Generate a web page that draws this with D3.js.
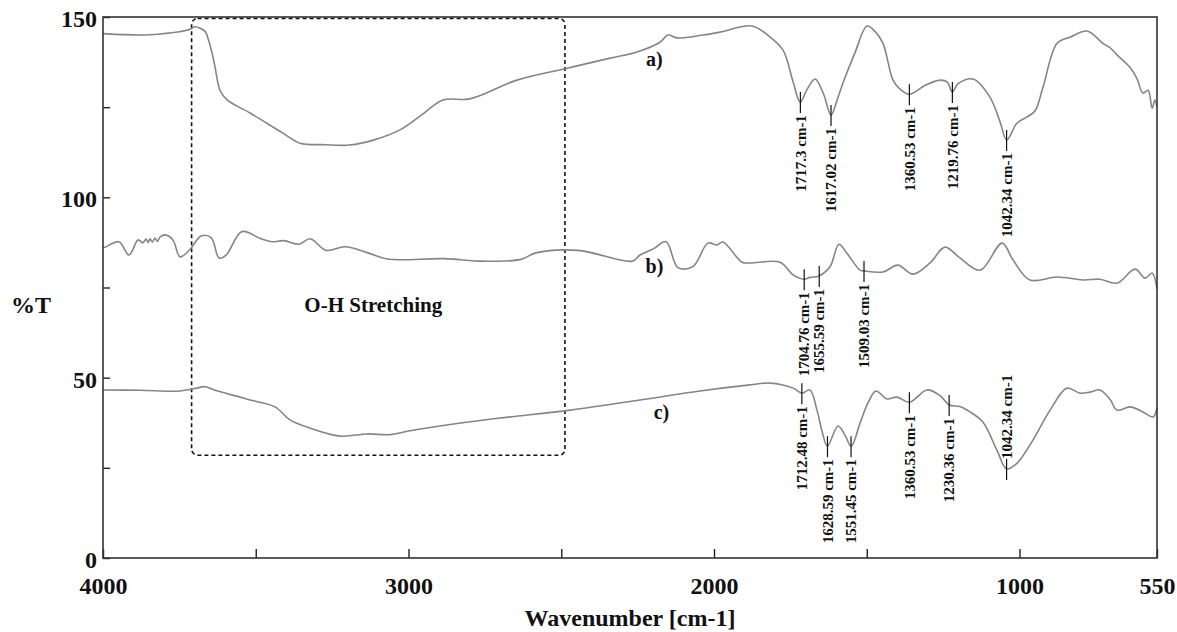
<!DOCTYPE html>
<html lang="en">
<head>
    <meta charset="UTF-8">
    <title>FTIR spectra</title>
    <script src="https://d3js.org/d3.v7.min.js"></script>
    <style type="text/css">
        body { margin: 0; background: #fff; }
        svg text { font-family: "Liberation Serif", "Times New Roman", serif; font-weight: bold; fill: #111; }
    </style>
</head>
<body>
    <div id="chartArea"></div>
    <script type="text/javascript">
        // spectra: [wavenumber, %T]
        var curveA = [
            [4000, 145.4], [3879, 145.0], [3813, 145.3], [3750, 145.9], [3715, 146.6], [3699, 147.3],
            [3666, 146.0], [3656, 144], [3643, 140], [3633, 136], [3617, 129.7], [3594, 127],
            [3519, 123.4], [3411, 117.8], [3355, 115], [3273, 114.6], [3192, 114.5], [3110, 116],
            [3028, 118.7], [2962, 122.5], [2887, 127], [2799, 127.3], [2645, 132.5], [2481, 135.8],
            [2340, 138.6], [2252, 140.3], [2177, 143], [2151, 145], [2121, 144.2], [2036, 145],
            [1980, 145.8], [1876, 147.5], [1817, 144.5], [1774, 140.8], [1741, 132], [1718, 126.4],
            [1695, 130], [1669, 132.8], [1643, 129], [1617, 122.8], [1597, 127], [1578, 131.7],
            [1539, 140], [1499, 147.5], [1473, 146], [1447, 142.7], [1414, 132.5], [1391, 130],
            [1360, 128.6], [1310, 131], [1260, 132.5], [1237, 132], [1220, 129.2], [1201, 131.5],
            [1152, 132.8], [1097, 127.8], [1064, 121], [1042, 115.9], [1008, 120.6], [975, 122.3],
            [949, 124], [923, 130.6], [877, 142.7], [835, 144.4], [779, 146.1], [727, 142.7],
            [704, 141.5], [681, 139.5], [638, 136], [616, 133], [596, 128.9], [579, 129.7],
            [566, 124.7], [557, 127], [550, 125]
        ];
        var curveB = [
            [4000, 86.3], [3997, 86.1], [3948, 87.7], [3915, 84.0], [3885, 88.2], [3870, 87.4],
            [3859, 88.4], [3852, 87.5], [3846, 88.5], [3838, 87.6], [3830, 88.7], [3822, 87.8],
            [3813, 89.0], [3797, 89.6], [3771, 88.2], [3748, 83.5], [3715, 85.6], [3679, 89.3],
            [3646, 88.8], [3620, 83.2], [3597, 84.0], [3545, 90.5], [3483, 88.5], [3447, 87.7],
            [3408, 88.0], [3358, 87.0], [3322, 88.5], [3270, 85.3], [3208, 86.3], [3133, 84.6],
            [3070, 82.9], [2884, 83.0], [2756, 82.3], [2632, 82.8], [2583, 84.6], [2445, 85.3],
            [2268, 82.3], [2242, 84.0], [2199, 85.7], [2157, 87.7], [2118, 80.5], [2069, 80.8],
            [2020, 87.3], [1990, 86.8], [1971, 87.6], [1908, 82.0], [1882, 81.8], [1784, 82.0],
            [1741, 78.5], [1705, 77.3], [1686, 77.8], [1656, 78.2], [1620, 80.8], [1591, 87.0],
            [1565, 84.5], [1522, 79.8], [1509, 79.6], [1447, 79.3], [1398, 81.2], [1349, 78.7],
            [1293, 81.8], [1244, 86.2], [1195, 83.2], [1129, 79.8], [1057, 87.3], [1021, 82.6],
            [966, 77.1], [877, 77.9], [792, 77.1], [737, 77.3], [681, 76.2], [622, 80.1],
            [589, 77.6], [566, 79.0], [550, 74.6]
        ];
        var curveC = [
            [4000, 46.6], [3879, 46.5], [3748, 46.3], [3699, 47], [3666, 47.5], [3633, 46.5],
            [3552, 44.6], [3519, 43.8], [3437, 41.9], [3388, 38.3], [3322, 36], [3224, 33.8],
            [3136, 34.4], [3060, 34.2], [3000, 35.2], [2864, 37], [2701, 38.8], [2471, 41],
            [2242, 43.8], [2046, 46.3], [1882, 48], [1817, 48.5], [1741, 47.1], [1712, 45.7],
            [1686, 46.6], [1663, 41], [1646, 35], [1629, 31], [1594, 36.6], [1571, 34],
            [1551, 31], [1522, 37.4], [1496, 43], [1470, 46.3], [1434, 44.1], [1401, 44.6],
            [1360, 43.2], [1303, 46.6], [1260, 45], [1230, 42.4], [1195, 42], [1162, 40.5],
            [1120, 37.7], [1074, 29.9], [1042, 24.7], [1008, 26.3], [956, 32.7], [900, 41],
            [845, 47.1], [802, 45.7], [769, 46], [737, 46.6], [704, 44], [681, 41],
            [638, 41.9], [596, 40.5], [563, 39.1], [550, 41.6]
        ];

        // marked bands: [wavenumber, %T at the mark, label above?]
        var peaksA = [[1717.3, 126.4], [1617.02, 122.8], [1360.53, 128.6], [1219.76, 129.2], [1042.34, 115.9]];
        var peaksB = [[1704.76, 77.3], [1655.59, 78.2], [1509.03, 79.6]];
        var peaksC = [[1712.48, 45.7], [1628.59, 31], [1551.45, 31], [1360.53, 43.2], [1230.36, 42.4], [1042.34, 24.7, true]];

        // curve names: [name, wavenumber, %T]
        var curveNames = [['a)', 2195, 136.5], ['b)', 2195, 79], ['c)', 2172, 38.5]];

        var xTicks = [4000, 3500, 3000, 2500, 2000, 1500, 1000, 550];
        var xLabels = [4000, 3000, 2000, 1000, 550];
        var yTicks = [0, 25, 50, 75, 100, 125, 150];
        var yLabels = [0, 50, 100, 150];

        // O-H region box: [wn left, wn right, %T top, %T bottom]
        var ohBox = [3710, 2488, 149.6, 28.5];

        var w = 1177, h = 632;
        var svg = d3.select('#chartArea').append('svg')
            .attr('width', w)
            .attr('height', h);

        var xScale = d3.scaleLinear().domain([4000, 550]).range([103, 1157]);
        var yScale = d3.scaleLinear().domain([0, 150]).range([558, 17]);

        // O-H box (behind curves)
        svg.append('rect')
            .attr('x', xScale(ohBox[0]))
            .attr('y', yScale(ohBox[2]))
            .attr('width', xScale(ohBox[1]) - xScale(ohBox[0]))
            .attr('height', yScale(ohBox[3]) - yScale(ohBox[2]))
            .attr('rx', 6)
            .attr('fill', 'none')
            .attr('stroke', '#111')
            .attr('stroke-width', 1.6)
            .attr('stroke-dasharray', '4,3');

        svg.append('text')
            .attr('x', (xScale(ohBox[0]) + xScale(ohBox[1])) / 2 - 5)
            .attr('y', 312)
            .attr('text-anchor', 'middle')
            .style('font-size', '21px')
            .text('O-H Stretching');

        var line = d3.line()
            .x(function (d) { return xScale(d[0]); })
            .y(function (d) { return yScale(d[1]); })
            .curve(d3.curveCatmullRom.alpha(0.5));

        [curveA, curveB, curveC].forEach(function (c) {
            svg.append('path')
                .datum(c)
                .attr('d', line)
                .attr('fill', 'none')
                .attr('stroke', '#858585')
                .attr('stroke-width', 1.6);
        });

        // peak marks and labels
        [peaksA, peaksB, peaksC].forEach(function (peaks) {
            var g = svg.append('g');
            peaks.forEach(function (p) {
                var x = xScale(p[0]), y = yScale(p[1]);
                g.append('line')
                    .attr('x1', x).attr('x2', x)
                    .attr('y1', y - 10).attr('y2', y + 11)
                    .attr('stroke', '#111')
                    .attr('stroke-width', 1.2);
                var above = p[2] === true;
                g.append('text')
                    .attr('transform', 'translate(' + x + ',' + (above ? y - 10 : y + 13) + ') rotate(-90)')
                    .attr('text-anchor', above ? 'start' : 'end')
                    .attr('dy', '0.35em')
                    .style('font-size', '15px')
                    .text(p[0] + ' cm-1');
            });
        });

        svg.selectAll('.cname')
            .data(curveNames)
            .enter()
            .append('text')
            .attr('class', 'cname')
            .attr('x', function (d) { return xScale(d[1]); })
            .attr('y', function (d) { return yScale(d[2]); })
            .attr('text-anchor', 'middle')
            .style('font-size', '20px')
            .text(function (d) { return d[0]; });

        // axes
        var xAxis = d3.axisBottom(xScale)
            .tickValues(xTicks)
            .tickSize(-9)
            .tickPadding(19)
            .tickFormat(function (d) { return xLabels.indexOf(d) >= 0 ? d : ''; });
        var gx = svg.append('g')
            .attr('transform', 'translate(0,558)')
            .call(xAxis);
        gx.select('.domain').remove();
        gx.selectAll('line').attr('stroke', '#222').attr('stroke-width', 1.4);
        gx.selectAll('text').style('font-size', '24px').attr('fill', '#111');

        var yAxis = d3.axisLeft(yScale)
            .tickValues(yTicks)
            .tickSize(-7)
            .tickPadding(6)
            .tickFormat(function (d) { return yLabels.indexOf(d) >= 0 ? d : ''; });
        var gy = svg.append('g')
            .attr('transform', 'translate(103,0)')
            .call(yAxis);
        gy.select('.domain').remove();
        gy.selectAll('line').attr('stroke', '#222').attr('stroke-width', 1.4);
        gy.selectAll('text').style('font-size', '24px').attr('fill', '#111').attr('dy', '0.4em');

        // frame
        svg.append('rect')
            .attr('x', 103).attr('y', 17)
            .attr('width', 1157 - 103).attr('height', 558 - 17)
            .attr('fill', 'none')
            .attr('stroke', '#333')
            .attr('stroke-width', 1.6);

        svg.append('text')
            .attr('x', 31).attr('y', 313)
            .attr('text-anchor', 'middle')
            .style('font-size', '24px')
            .text('%T');

        svg.append('text')
            .attr('x', 630).attr('y', 626)
            .attr('text-anchor', 'middle')
            .style('font-size', '24px')
            .text('Wavenumber [cm-1]');
    </script>
</body>
</html>
